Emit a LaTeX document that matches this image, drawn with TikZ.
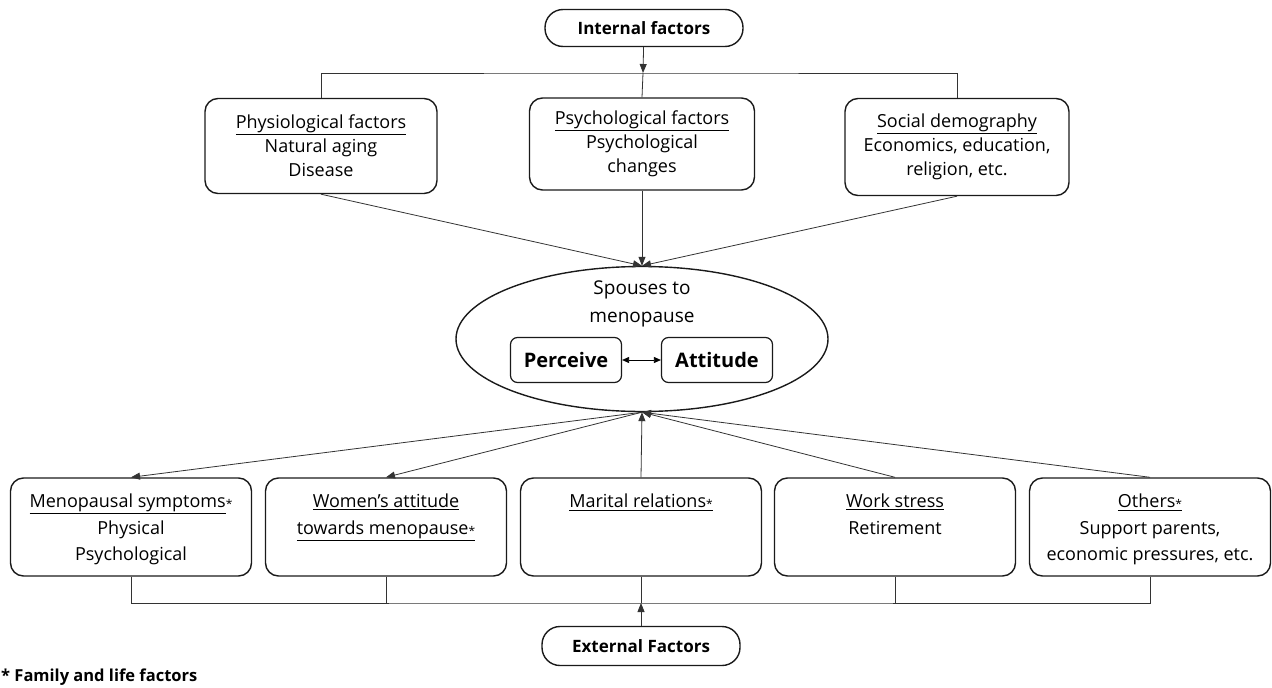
\documentclass[tikz,border=0pt]{standalone}
\usepackage{fontspec}
\setmainfont{Open Sans}
\usepackage{tikz}
\usetikzlibrary{arrows.meta,positioning,shapes.geometric}
\definecolor{ink}{HTML}{1A1A1A}
\definecolor{wire}{HTML}{333333}
\newcommand\fstar{\raisebox{-0.15ex}{\fontsize{12}{12}\selectfont *}}

\begin{document}
\begin{tikzpicture}[x=1pt,y=-1pt,
  font=\fontsize{18}{24}\selectfont,
  term/.style={draw=ink,line width=1.4pt,rounded corners=18pt,minimum width=198pt,
    minimum height=37pt,font=\fontsize{17}{22}\selectfont\bfseries},
  factor/.style={draw=ink,line width=1.4pt,rounded corners=13pt,minimum width=232pt,
    minimum height=95pt,align=center},
  lower/.style={draw=ink,line width=1.4pt,rounded corners=13pt,minimum width=241pt,
    minimum height=98pt},
  inner/.style={draw=ink,line width=1.2pt,rounded corners=7pt,minimum width=111pt,
    minimum height=45pt,font=\fontsize{20}{22}\selectfont\bfseries},
  txt/.style={align=center,anchor=north,yshift=-13pt,font=\fontsize{18}{26.5}\selectfont},
  arrow/.style={-{Triangle[length=9pt,width=7pt]},line width=0.8pt,draw=wire},
  link/.style={line width=0.8pt,draw=wire}]
\useasboundingbox (0,0) rectangle (1272,688);
% internal factors
\node[term] (int) at (644,28) {Internal factors};
\node[factor] (phys) at (321,146) {\underline{Physiological factors}\\Natural aging\\Disease};
\node[factor,minimum width=225pt,minimum height=92pt] (psy) at (642,144) {\underline{Psychological factors}\\Psychological\\changes};
\node[factor,minimum width=224pt,minimum height=97pt] (soc) at (957,147) {\underline{Social demography}\\Economics, education,\\religion, etc.};
\coordinate (tj) at (643,73);
\draw[arrow] (int) -- (tj);
\draw[link] (phys.north) |- (tj) -| (soc.north); \draw[link] (tj) -- (psy.north);
% spouses
\node[ellipse,draw=ink,line width=1.4pt,minimum width=372pt,minimum height=145pt] (sp) at (642,339) {};
\node[align=center,font=\fontsize{19}{28}\selectfont] (sptxt) at (642,304) {Spouses to\\menopause};
\node[inner] (per) at (566,360) {Perceive};
\node[inner] (att) at (717,360) {Attitude};
\draw[{Triangle[length=7pt,width=6pt]}-{Triangle[length=7pt,width=6pt]},line width=0.8pt] (per) -- (att);
\draw[arrow] (phys.south) -- (sp.north); \draw[arrow] (psy.south) -- (sp.north); \draw[arrow] (soc.south) -- (sp.north);
% external factors
\node[lower,label={[txt]north:\underline{Menopausal symptoms}\fstar\\Physical\\Psychological}] (men) at (131,527) {};
\node[lower,label={[txt]north:\underline{Women's attitude}\\\underline{towards menopause\fstar}}] (wom) at (386,527) {};
\node[lower,label={[txt]north:\underline{Marital relations\fstar}}] (mar) at (641,527) {};
\node[lower,label={[txt]north:\underline{Work stress}\\Retirement}] (wrk) at (895,527) {};
\node[lower,label={[txt]north:\underline{Others\fstar}\\Support parents,\\economic pressures, etc.}] (oth) at (1150,527) {};
\draw[arrow] (sp.south) -- (men.north); \draw[arrow] (sp.south) -- (wom.north);
\draw[arrow,{Triangle[length=9pt,width=7pt]}-] (sp.south) -- (mar.north);
\draw[arrow] (wrk.north) -- (sp.south); \draw[arrow] (oth.north) -- (sp.south);
\node[term,minimum height=39pt] (ext) at (641,646) {External Factors};
\coordinate (bj) at (641,603);
\draw[link] (men.south) |- (bj) -| (oth.south);
\draw[link] (wom.south) -- (wom.south |- bj); \draw[link] (mar.south) -- (bj); \draw[link] (wrk.south) -- (wrk.south |- bj);
\draw[arrow] (ext) -- (bj);
\node[anchor=west,inner sep=0pt,font=\fontsize{16.5}{20}\selectfont\bfseries] (note) at (1,677) {* Family and life factors};
\end{tikzpicture}
\end{document}
